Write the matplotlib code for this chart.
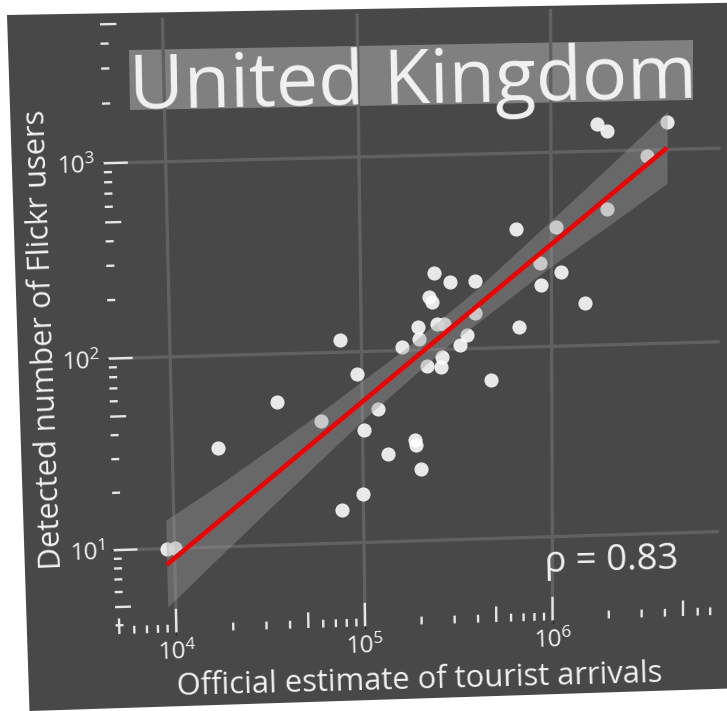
import numpy as np
import matplotlib

matplotlib.use("Agg")
import matplotlib.pyplot as plt
import matplotlib.transforms as mtransforms
from matplotlib.patches import Polygon

# Flickr users detected vs. official tourist arrivals, one point per origin
arrivals = [
    9180, 10060, 17360, 35840, 60300, 77260, 93950, 101700, 121500, 135000,
    99450, 76560, 187800, 190000, 201900, 162300, 199100, 199500, 226200, 236300,
    240900, 295200, 398900, 250400, 271200, 394500, 358300, 328100, 263800, 259400,
    219800, 476900, 652900, 1058800, 872000, 1122000, 879000, 669600, 1497000, 1959000,
    3177000, 1748000, 1960000, 4061000,
]
users = [
    10, 10, 33, 56, 44, 116, 77, 39, 50, 29,
    18, 15, 34, 32, 24, 104, 131, 114, 187, 177,
    248, 224, 224, 136, 136, 153, 118, 105, 91, 81,
    82, 68, 407, 415, 270, 243, 210, 128, 167, 503,
    930, 1368, 1259, 1378,
]

# log-log linear fit and its 95% band
fit_arrivals = [9060, 4050000]
fit_users = [8.22, 1021]
band_arrivals = [9060, 17780, 31620, 56230, 100000, 177800, 263000, 398100, 1000000, 1995000, 4050000]
band_lower = [4.9, 9.13, 15.45, 26.0, 43.75, 70.7, 98.2, 133.5, 260.8, 412.5, 670]
band_upper = [14.1, 21.5, 31.55, 46.6, 70.3, 105.6, 144.2, 199.8, 448.3, 825.2, 1563]

x_ticks = [1e4, 1e5, 1e6]
y_ticks = [1e1, 1e2, 1e3]
x_range = (10 ** 3.68, 10 ** 6.88)
y_range = (10 ** 0.555, 10 ** 3.718)

title = "United Kingdom"
x_label = "Official estimate of tourist arrivals"
y_label = "Detected number of Flickr users"
rho_label = "\u03c1 = 0.83"

W, H = 727, 711
BG = "#484848"
GRID = "#616161"
TICK = "#e6e6e6"
TXT = "#f2f2f2"
TITLE_BOX = "#808080"
LONG, MID, SHORT = 24.0, 16.0, 8.0

plt.rcParams["font.family"] = ["Open Sans", "DejaVu Sans"]
plt.rcParams["mathtext.default"] = "regular"


class Keystone(mtransforms.Transform):
    """Projective warp of display coordinates (the page sits slightly askew)."""

    input_dims = output_dims = 2
    is_separable = False
    has_inverse = True

    def __init__(self, matrix):
        super().__init__()
        self.matrix = np.asarray(matrix, float)

    def transform_non_affine(self, values):
        v = np.asarray(values, float)
        p = np.column_stack([v, np.ones(len(v))]) @ self.matrix.T
        return p[:, :2] / p[:, 2:]

    def inverted(self):
        return Keystone(np.linalg.inv(self.matrix))


def fit_homography(src, dst):
    rows, rhs = [], []
    for (x, y), (u, v) in zip(src, dst):
        rows.append([x, y, 1, 0, 0, 0, -u * x, -u * y])
        rhs.append(u)
        rows.append([0, 0, 0, x, y, 1, -v * x, -v * y])
        rhs.append(v)
    h = np.linalg.solve(np.array(rows, float), np.array(rhs, float))
    return np.append(h, 1.0).reshape(3, 3)


def screen(points):
    return [(x, H - y) for x, y in points]


def log_ticks(lo, hi):
    vals, lens = [], []
    for k in range(int(np.floor(np.log10(lo))), int(np.ceil(np.log10(hi))) + 1):
        for m in range(1, 10):
            v = m * 10.0 ** k
            if lo <= v <= hi:
                vals.append(v)
                lens.append(LONG if m == 1 else MID if m == 5 else SHORT)
    return np.array(vals), np.array(lens)


fig = plt.figure(figsize=(W / 100, H / 100), dpi=100, facecolor="white")
ax_left, ax_top, ax_w, ax_h = 108.0, 18.0, 614.4, 607.3
ax = fig.add_axes([ax_left / W, 1 - (ax_top + ax_h) / H, ax_w / W, ax_h / H])
ax.set_xscale("log")
ax.set_yscale("log")
ax.set_xlim(*x_range)
ax.set_ylim(*y_range)
ax.set_autoscale_on(False)
ax.patch.set_visible(False)
for spine in ax.spines.values():
    spine.set_visible(False)

# grid crossings where they land on the tilted page
crossings = [(1e4, 1e3), (1e6, 1e3), (1e4, 1e1), (1e6, 1e1)]
flat = ax.transData.transform(crossings)
landed = np.array(screen([(165.7, 161.7), (551.0, 152.3), (174.5, 548.3), (552.3, 536.7)]))
warp = Keystone(fit_homography(flat, landed))


def tilt(p, d):
    a, b = warp.transform(np.array([p, np.add(p, d)], float))
    return np.degrees(np.arctan2(b[1] - a[1], b[0] - a[0]))


def bend(artist):
    artist.set_transform(artist.get_transform() + warp)
    artist.set_clip_on(False)
    return artist


# page background and title plate
fig.add_artist(Polygon(screen([(7, 15), (745, 2.5), (745, 688), (29.5, 711)]), closed=True,
                       fc=BG, ec="none", transform=mtransforms.IdentityTransform(), zorder=-10))
fig.add_artist(Polygon(screen([(129, 50), (693, 40), (693, 100), (130, 110)]), closed=True,
                       fc=TITLE_BOX, ec="none", transform=mtransforms.IdentityTransform(), zorder=-9))

ax.set_xticks(x_ticks)
ax.set_yticks(y_ticks)
ax.xaxis.set_minor_locator(matplotlib.ticker.NullLocator())
ax.yaxis.set_minor_locator(matplotlib.ticker.NullLocator())
ax.tick_params(which="major", direction="out", length=2, width=1, color="#222222",
               pad=3.7, labelsize=17.5, labelcolor=TXT)
ax.grid(True, color=GRID, lw=2.4)
ax.set_axisbelow(True)

# log ticks inside the panel along bottom and left edges
xv, xl = log_ticks(*x_range)
yv, yl = log_ticks(*y_range)
bend(ax.vlines(xv, 0, xl / ax_h, transform=ax.get_xaxis_transform(), colors=TICK, lw=1.7, zorder=1.5))
bend(ax.hlines(yv, 0, yl / ax_w, transform=ax.get_yaxis_transform(), colors=TICK, lw=1.7, zorder=1.5))

pts, = ax.plot(arrivals, users, "o", ms=10.2, color="white", alpha=0.88, mec="none", zorder=2)
bend(pts)
bend(ax.fill_between(band_arrivals, band_lower, band_upper, color="#999999", alpha=0.4, lw=0, zorder=3))
fit, = ax.plot(fit_arrivals, fit_users, color="#f00000", lw=3.3, solid_capstyle="butt", zorder=4)
bend(fit)

ident = mtransforms.IdentityTransform()
fig.text(130, H - 109, title, transform=ident, fontsize=54.2, color=TXT,
         ha="left", va="baseline", rotation=1.15, rotation_mode="anchor")
fig.text(419.7, H - 688.5, x_label, transform=ident, fontsize=22.2, color=TXT,
         ha="center", va="baseline", rotation=1.55, rotation_mode="anchor")
fig.text(52.3, H - 339, y_label, transform=ident, fontsize=22.2, color=TXT,
         ha="center", va="baseline", rotation=92.1, rotation_mode="anchor")
fig.text(545, H - 572, rho_label, transform=ident, fontsize=26.3, color=TXT,
         ha="left", va="baseline", rotation=1.5, rotation_mode="anchor")

fig.canvas.draw()
for axis in (ax.xaxis, ax.yaxis):
    for tick in axis.get_major_ticks():
        bend(tick.gridline)
        bend(tick.tick1line)
        lab = tick.label1
        anchor = lab.get_transform().transform(lab.get_position())
        lab.set_transform(lab.get_transform() + warp)
        lab.set_rotation(tilt(anchor, (30, 0)))
        lab.set_rotation_mode("anchor")

fig.savefig("out.png", dpi=100, facecolor="white")
